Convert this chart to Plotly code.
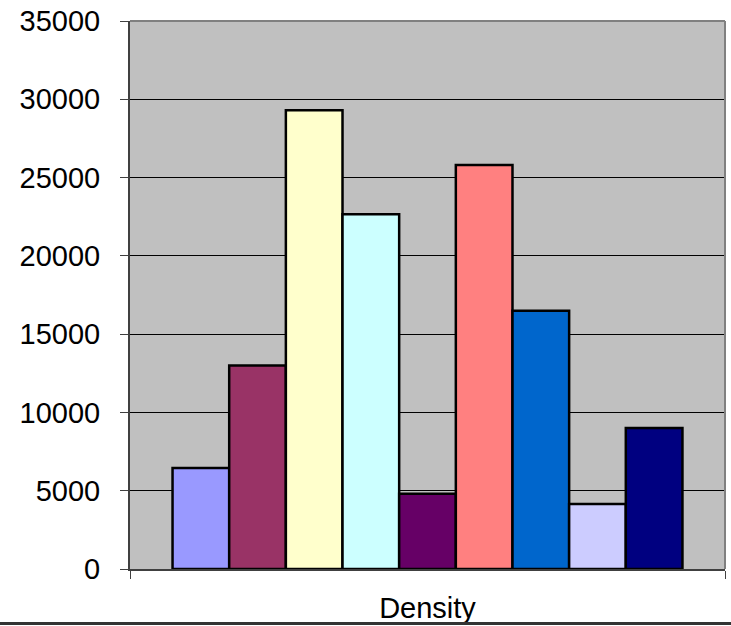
import plotly.graph_objects as go

# Data
category = ["Density"]
series_names = ["S1", "S2", "S3", "S4", "S5", "S6", "S7", "S8", "S9"]
values = [6450, 13000, 29300, 22650, 4800, 25800, 16500, 4150, 9000]
colors = ["#9999FF", "#993366", "#FFFFCC", "#CCFFFF", "#660066",
          "#FF8080", "#0066CC", "#CCCCFF", "#000080"]
y_ticks = [0, 5000, 10000, 15000, 20000, 25000, 30000, 35000]

W, H = 731, 626
L, R, T, B = 130, 6, 21, 57

fig = go.Figure()
for name, v, c in zip(series_names, values, colors):
    fig.add_trace(go.Bar(
        x=category, y=[v], name=name,
        marker=dict(color=c, line=dict(color="black", width=2.5)),
        showlegend=False,
    ))

font = dict(family="Liberation Sans, Arial, sans-serif", size=29, color="black")

fig.update_layout(
    width=W, height=H,
    margin=dict(l=L, r=R, t=T, b=B, pad=0),
    paper_bgcolor="white",
    plot_bgcolor="#C0C0C0",
    barmode="group",
    bargap=0.143,
    bargroupgap=0,
    font=font,
    xaxis=dict(
        type="category",
        automargin=False,
        tickson="boundaries",
        ticks="outside", ticklen=8, tickcolor="#404040", tickwidth=1,
        showline=True, linecolor="#404040", linewidth=2,
        showgrid=False,
        tickfont=font,
        ticklabelstandoff=12,
    ),
    yaxis=dict(
        range=[0, 35000],
        automargin=False,
        tickvals=y_ticks,
        ticktext=[str(t) for t in y_ticks],
        ticks="outside", ticklen=8, tickcolor="#404040", tickwidth=1,
        showline=True, linecolor="#404040", linewidth=2,
        showgrid=True, gridcolor="black", gridwidth=1,
        zeroline=False,
        tickfont=font,
        ticklabelstandoff=14,
    ),
)

# Plot-area frame on top and right sides
fig.add_shape(type="line", xref="paper", yref="paper", x0=0, x1=1, y0=1, y1=1,
              line=dict(color="#808080", width=2))
fig.add_shape(type="line", xref="paper", yref="paper", x0=1, x1=1, y0=0, y1=1,
              line=dict(color="#808080", width=2))

# Horizontal rule along the bottom of the figure
ph = H - T - B
pw = W - L - R
y_rule = -(623.5 - (H - B)) / ph
fig.add_shape(type="line", xref="paper", yref="paper",
              x0=-L / pw, x1=(W - L) / pw, y0=y_rule, y1=y_rule,
              line=dict(color="#333333", width=3))

fig.write_html("out.html")
